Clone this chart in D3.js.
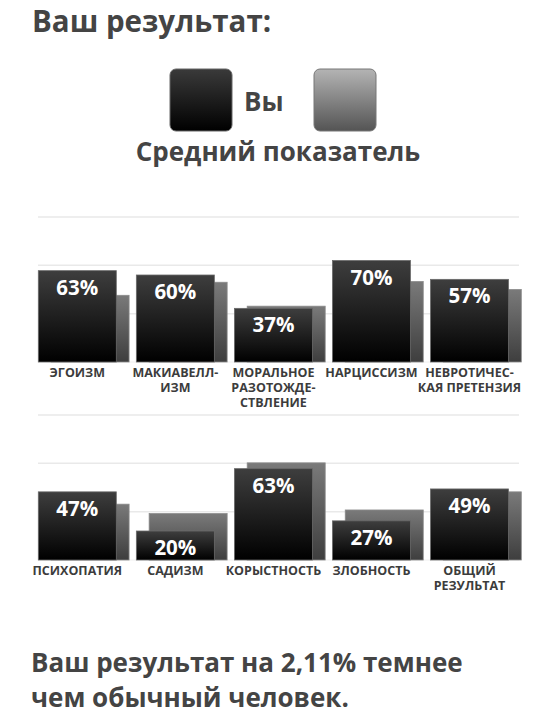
<!DOCTYPE html>
<html><head><meta charset="utf-8">
<script src="https://cdn.jsdelivr.net/npm/d3@7"></script>
<style>
html,body{margin:0;padding:0;background:#fff;}
svg{display:block;}
.t{font-family:"Open Sans",sans-serif;font-weight:700;fill:#444;}
.cat{font-family:"Open Sans",sans-serif;font-weight:700;fill:#3c3c3c;font-size:12.5px;}
.val{font-family:"Open Sans",sans-serif;font-weight:700;fill:#fff;font-size:20.5px;}
</style></head>
<body>
<script>
// Data
const categories1 = ["Эгоизм", "Макиавеллизм", "Моральное разотождествление", "Нарциссизм", "Невротическая претензия"];
const labels1 = [["ЭГОИЗМ"], ["МАКИАВЕЛЛ-", "ИЗМ"], ["МОРАЛЬНОЕ", "РАЗОТОЖДЕ-", "СТВЛЕНИЕ"], ["НАРЦИССИЗМ"], ["НЕВРОТИЧЕС-", "КАЯ ПРЕТЕНЗИЯ"]];
const you1 = [63, 60, 37, 70, 57];
const avg1 = [46, 55, 38.5, 55.5, 50];

const categories2 = ["Психопатия", "Садизм", "Корыстность", "Злобность", "Общий результат"];
const labels2 = [["ПСИХОПАТИЯ"], ["САДИЗМ"], ["КОРЫСТНОСТЬ"], ["ЗЛОБНОСТЬ"], ["ОБЩИЙ", "РЕЗУЛЬТАТ"]];
const you2 = [47, 20, 63, 27, 49];
const avg2 = [38.5, 32, 67, 34.5, 47];

const gridTicks = [100/3, 200/3, 100];
const legendLabels = ["Вы", "Средний показатель"];
const titleText = "Ваш результат:";
const footerLines = ["Ваш результат на 2,11% темнее", "чем обычный человек."];

const W = 556, H = 720;
const svg = d3.select("body").append("svg").attr("width", W).attr("height", H);
const defs = svg.append("defs");
function grad(id, c1, c2){
  const g = defs.append("linearGradient").attr("id", id).attr("x1",0).attr("y1",0).attr("x2",0).attr("y2",1);
  g.append("stop").attr("offset","0%").attr("stop-color", c1);
  g.append("stop").attr("offset","100%").attr("stop-color", c2);
}
grad("gYou", "#3e3e3e", "#000000");
grad("gAvg", "#7a7a7a", "#3e3e3e");
grad("gYouL", "#3a3a3a", "#000000");
grad("gAvgL", "#b4b4b4", "#545454");

// Title
svg.append("text").attr("class","t").attr("x",32).attr("y",31.5).attr("font-size",29.5).text(titleText);

// Legend
svg.append("rect").attr("x",170).attr("y",69).attr("width",62).attr("height",62).attr("rx",6)
  .attr("fill","url(#gYouL)").attr("stroke","#666").attr("stroke-width",1);
svg.append("text").attr("class","t").attr("x",244).attr("y",111).attr("font-size",26).text(legendLabels[0]);
svg.append("rect").attr("x",314).attr("y",69).attr("width",62).attr("height",62).attr("rx",6)
  .attr("fill","url(#gAvgL)").attr("stroke","#777").attr("stroke-width",1);
svg.append("text").attr("class","t").attr("x",278).attr("y",161).attr("font-size",26)
  .attr("text-anchor","middle").text(legendLabels[1]);

function drawChart(cats, labels, you, avg, base){
  const x = d3.scaleBand().domain(cats).range([38.3, 508.5]).paddingInner(0.2045).paddingOuter(0);
  const y = d3.scaleLinear().domain([0, 100]).range([base, base - 145]);
  const bw = x.bandwidth();
  const off = bw * 0.164;
  const g = svg.append("g");
  g.selectAll("line.grid").data(gridTicks).join("line").attr("class","grid")
    .attr("x1",38).attr("x2",519).attr("y1",d=>y(d)).attr("y2",d=>y(d))
    .attr("stroke","#e9e9e9").attr("stroke-width",1.5);
  g.append("line").attr("x1",38).attr("x2",519).attr("y1",y(0)).attr("y2",y(0))
    .attr("stroke","#f0f0f0").attr("stroke-width",1);
  // average bars
  g.selectAll("rect.avg").data(avg).join("rect").attr("class","avg")
    .attr("x",(d,i)=>x(cats[i]) + off).attr("y",d=>y(d))
    .attr("width",bw).attr("height",d=>y(0)-y(d))
    .attr("fill","url(#gAvg)").attr("stroke","#8a8a8a").attr("stroke-width",0.8);
  // you bars
  g.selectAll("rect.you").data(you).join("rect").attr("class","you")
    .attr("x",(d,i)=>x(cats[i])).attr("y",d=>y(d))
    .attr("width",bw).attr("height",d=>y(0)-y(d))
    .attr("fill","url(#gYou)").attr("stroke","#6a6a6a").attr("stroke-width",0.8);
  // values
  g.selectAll("text.val").data(you).join("text").attr("class","val")
    .attr("x",(d,i)=>x(cats[i]) + bw/2).attr("y",d=>y(d)+24)
    .attr("text-anchor","middle").text(d=>d+"%");
  // category labels
  cats.forEach((c,i)=>{
    const t = g.append("text").attr("class","cat").attr("text-anchor","middle")
      .attr("x", x(c) + bw/2).attr("y", base + 15);
    labels[i].forEach((ln,j)=>{
      t.append("tspan").attr("x", x(c) + bw/2).attr("dy", j===0?0:15).text(ln);
    });
  });
}
drawChart(categories1, labels1, you1, avg1, 362);
drawChart(categories2, labels2, you2, avg2, 560);

// Footer
footerLines.forEach((ln,i)=>{
  svg.append("text").attr("class","t").attr("x",31).attr("y",672 + i*35).attr("font-size",26).text(ln);
});
</script>
</body></html>
